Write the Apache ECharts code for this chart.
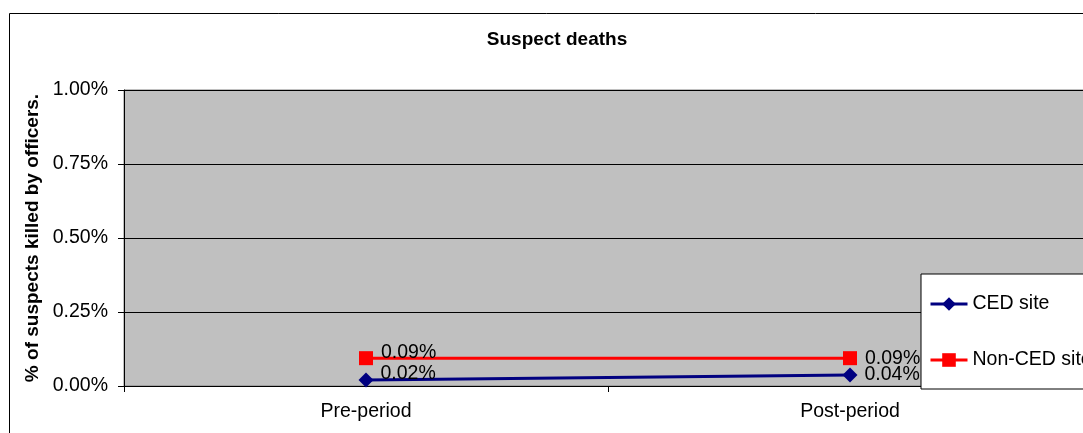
<!DOCTYPE html>
<html>
<head>
<meta charset="utf-8">
<script src="https://cdn.jsdelivr.net/npm/echarts@6/dist/echarts.min.js"></script>
<style>
  html, body { margin: 0; padding: 0; background: #fff; }
  #chart { width: 1083px; height: 433px; }
</style>
</head>
<body>
<div id="chart"></div>
<script>
// data (percent units)
const periods = ["Pre-period", "Post-period"];
const cedSite = [0.02, 0.037];
const nonCedSite = [0.094, 0.094];
const yTicks = [0, 0.25, 0.5, 0.75, 1];

const font = "Liberation Sans, Arial, sans-serif";

// pre-period labels sit a little above the marker, post-period ones beside it
function labelled(values) {
  return values.map((v, i) => ({
    value: v,
    label: { offset: i === 0 ? [0, -6] : [0, 0] }
  }));
}

let myChart = echarts.init(document.getElementById("chart"));
let option = {
  backgroundColor: "#fff",
  animation: false,
  textStyle: { fontFamily: font },
  title: {
    text: "Suspect deaths",
    left: 552,
    textAlign: "center",
    top: 25,
    textStyle: { fontSize: 19, fontWeight: "bold", color: "#000", fontFamily: font }
  },
  graphic: [
    {
      type: "rect",
      left: 7, top: 11,
      shape: { width: 1100, height: 440 },
      style: { fill: "none", stroke: "#000", lineWidth: 1 },
      z: -1
    }
  ],
  grid: {
    left: 124,
    top: 90,
    width: 968,
    bottom: 47,
    outerBoundsMode: "none",
    containLabel: false,
    show: true,
    backgroundColor: "#C0C0C0",
    borderColor: "#808080",
    borderWidth: 1
  },
  legend: {
    orient: "vertical",
    left: 921,
    top: 274,
    backgroundColor: "#fff",
    borderColor: "#000",
    borderWidth: 1,
    borderRadius: 0,
    padding: [20, 30, 19, 8],
    itemGap: 36,
    itemWidth: 37,
    itemHeight: 17,
    lineStyle: { width: 3 },
    textStyle: { fontSize: 19.5, color: "#000", fontFamily: font },
    data: ["CED site", "Non-CED site"]
  },
  xAxis: {
    type: "category",
    data: periods,
    boundaryGap: true,
    axisLine: { lineStyle: { color: "#000", width: 1 } },
    axisTick: { show: true, length: 6, lineStyle: { color: "#000" } },
    axisLabel: { fontSize: 19.5, color: "#000", margin: 16, fontFamily: font }
  },
  yAxis: {
    type: "value",
    min: yTicks[0],
    max: yTicks[yTicks.length - 1],
    interval: 0.25,
    name: "% of suspects killed by officers.",
    nameLocation: "middle",
    nameRotate: 90,
    nameGap: 74,
    nameTextStyle: { fontSize: 19, fontWeight: "bold", color: "#000", fontFamily: font },
    axisLine: { show: true, lineStyle: { color: "#000", width: 1 } },
    axisTick: { show: true, length: 6, lineStyle: { color: "#000" } },
    axisLabel: {
      fontSize: 19.5,
      color: "#000",
      margin: 16,
      fontFamily: font,
      formatter: v => v.toFixed(2) + "%"
    },
    splitLine: { show: true, lineStyle: { color: "#000", width: 1 } }
  },
  series: [
    {
      name: "CED site",
      type: "line",
      data: labelled(cedSite),
      symbol: "diamond",
      symbolSize: 15,
      color: "#000080",
      lineStyle: { width: 3, color: "#000080" },
      itemStyle: { color: "#000080" },
      label: {
        show: true,
        position: "right",
        distance: 7,
        fontSize: 19.5,
        color: "#000",
        fontFamily: font,
        formatter: p => p.value.toFixed(2) + "%"
      },
      z: 3
    },
    {
      name: "Non-CED site",
      type: "line",
      data: labelled(nonCedSite),
      symbol: "rect",
      symbolSize: 14,
      color: "#FF0000",
      lineStyle: { width: 3, color: "#FF0000" },
      itemStyle: { color: "#FF0000" },
      label: {
        show: true,
        position: "right",
        distance: 8,
        fontSize: 19.5,
        color: "#000",
        fontFamily: font,
        formatter: p => p.value.toFixed(2) + "%"
      },
      z: 2
    }
  ]
};
myChart.setOption(option);
window.addEventListener("resize", () => {
  myChart.resize();
});
</script>
</body>
</html>
